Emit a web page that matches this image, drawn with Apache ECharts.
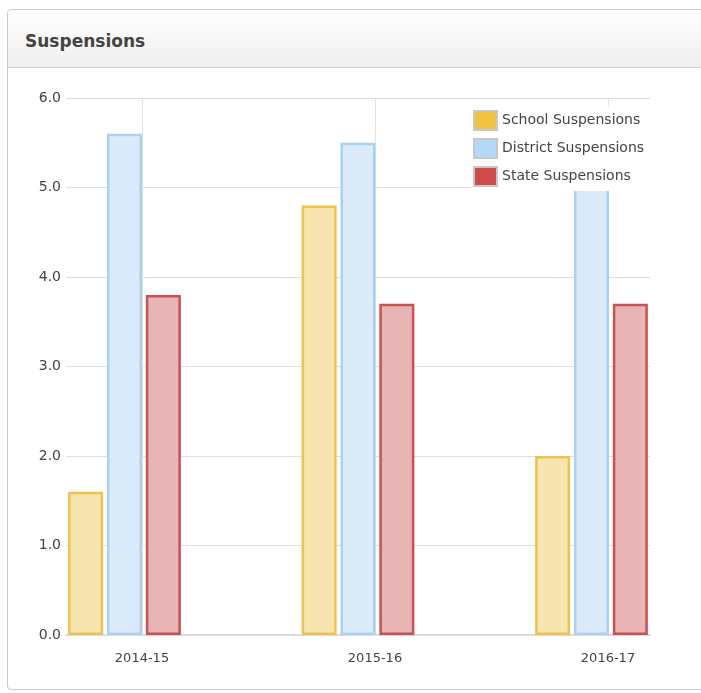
<!DOCTYPE html>
<html>
<head>
<meta charset="utf-8">
<script src="https://cdn.jsdelivr.net/npm/echarts@6/dist/echarts.min.js"></script>
<style>
  html, body { margin: 0; padding: 0; background: #fff; overflow: hidden; }
  .panel {
    position: absolute; left: 7px; top: 9px; width: 730px; height: 681px;
    border: 1px solid #c9c9c9; border-radius: 4px; box-sizing: border-box;
  }
  .panel-head {
    height: 57px; border-bottom: 1px solid #cfcfcf;
    background: linear-gradient(#ffffff, #efefef);
    border-radius: 4px 4px 0 0;
  }
  .panel-head h3 {
    margin: 0; padding: 21px 0 0 17px;
    font: bold 17px "DejaVu Sans", Verdana, sans-serif; color: #444;
  }
  #chart { position: absolute; left: 0; top: 0; width: 701px; height: 693px; }
</style>
</head>
<body>
<div class="panel"><div class="panel-head"><h3>Suspensions</h3></div></div>
<div id="chart"></div>
<script>
const categories = ['2014-15', '2015-16', '2016-17']
const schoolValues = [1.6, 4.8, 2.0]
const districtValues = [5.6, 5.5, 5.5]
const stateValues = [3.8, 3.7, 3.7]
const yTicks = [0, 1, 2, 3, 4, 5, 6]

const font = '"DejaVu Sans", Verdana, sans-serif'
const chart = echarts.init(document.getElementById('chart'))

function barSeries(name, values, fill, border) {
  return {
    name,
    type: 'bar',
    xAxisIndex: 1,
    yAxisIndex: 1,
    data: values,
    barWidth: 35,
    barGap: '11%',
    clip: false,
    itemStyle: { color: fill, borderColor: border, borderWidth: 2.5 },
    emphasis: { disabled: true },
  }
}

chart.setOption({
  animation: false,
  backgroundColor: 'transparent',
  textStyle: { fontFamily: font },
  grid: [
    { left: 66, right: 51, top: 98, bottom: 58 },
    { left: 124.5, right: 109.5, top: 98, bottom: 58 },
    { left: 142, right: 93, top: 98, bottom: 58 },
  ],
  xAxis: [
    {
      gridIndex: 0, type: 'value', min: 0, max: 1,
      axisLine: { show: true, onZero: false, lineStyle: { color: '#dcdcdc', width: 2 } },
      axisTick: { show: false }, axisLabel: { show: false }, splitLine: { show: false },
    },
    {
      gridIndex: 1, type: 'category', data: categories, boundaryGap: false,
      axisLine: { show: false }, axisTick: { show: false }, axisLabel: { show: false }, splitLine: { show: false },
    },
    {
      gridIndex: 2, type: 'category', data: categories, boundaryGap: false,
      axisLine: { show: false }, axisTick: { show: false },
      axisLabel: { color: '#444', fontSize: 13, margin: 17, fontFamily: font },
      splitLine: { show: true, lineStyle: { color: '#e2e2e2', width: 1 } },
    },
  ],
  yAxis: [
    {
      gridIndex: 0, type: 'value', min: yTicks[0], max: yTicks[yTicks.length - 1], interval: 1,
      axisLine: { show: false }, axisTick: { show: false },
      axisLabel: { color: '#444', fontSize: 14, margin: 5, formatter: (v) => v.toFixed(1) },
      splitLine: { lineStyle: { color: '#dedede', width: 1 } },
    },
    { gridIndex: 1, type: 'value', min: 0, max: 6, show: false },
    { gridIndex: 2, type: 'value', min: 0, max: 6, show: false },
  ],
  legend: {
    orient: 'vertical',
    left: 471, top: 107,
    itemWidth: 23, itemHeight: 19, itemGap: 7,
    padding: [3, 12, 4, 2],
    backgroundColor: '#fff',
    textStyle: { color: '#444', fontSize: 14, lineHeight: 18, fontFamily: font },
    selectedMode: false,
    data: [
      { name: 'School Suspensions', icon: 'rect', itemStyle: { color: '#efc340', borderColor: '#c8c8c8', borderWidth: 2 } },
      { name: 'District Suspensions', icon: 'rect', itemStyle: { color: '#b4d8f8', borderColor: '#c8c8c8', borderWidth: 2 } },
      { name: 'State Suspensions', icon: 'rect', itemStyle: { color: '#cf4a4a', borderColor: '#c8c8c8', borderWidth: 2 } },
    ],
  },
  series: [
    barSeries('School Suspensions', schoolValues, '#f6e5b0', '#efc34a'),
    barSeries('District Suspensions', districtValues, '#dcebfa', '#a9d1f6'),
    barSeries('State Suspensions', stateValues, '#e8b5b7', '#cc5050'),
  ],
})
</script>
</body>
</html>
